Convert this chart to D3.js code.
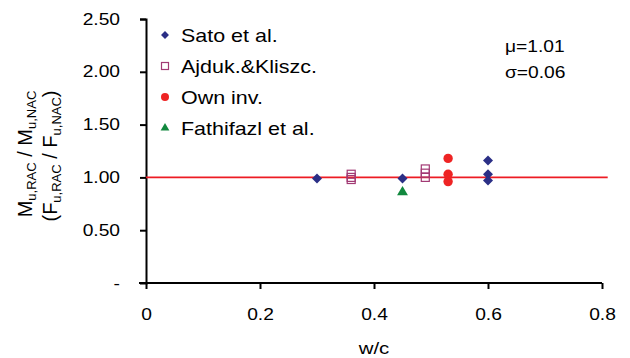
<!DOCTYPE html>
<html>
<head>
<meta charset="utf-8">
<script src="https://cdn.jsdelivr.net/npm/d3@7"></script>
<style>
  body { margin: 0; background: #fff; }
  text { font-family: "Liberation Sans", Arial, sans-serif; }
</style>
</head>
<body>
<div id="chart"></div>
<script>
// data
var satoX = [0.30, 0.45, 0.60, 0.60, 0.60];
var satoY = [0.99, 0.99, 1.16, 1.03, 0.97];
var ajdukX = [0.36, 0.36, 0.36, 0.49, 0.49, 0.49];
var ajdukY = [1.03, 1.00, 0.98, 1.08, 1.04, 1.00];
var ownX = [0.53, 0.53, 0.53];
var ownY = [1.18, 1.03, 0.96];
var fathX = [0.45];
var fathY = [0.86];
var xTicks = [0, 0.2, 0.4, 0.6, 0.8];
var yTicks = [0, 0.5, 1.0, 1.5, 2.0, 2.5];
var meanLine = 1.0;

var W = 630, H = 358;
var margin = {top: 19, right: 28, bottom: 75, left: 146},
    w = W - margin.left - margin.right,
    h = H - margin.top - margin.bottom;

var svg = d3.select("#chart").append("svg")
  .attr("width", W).attr("height", H)
  .append("g")
  .attr("transform", `translate(${margin.left},${margin.top})`);

var x = d3.scaleLinear().domain([0, 0.8]).range([0, w]);
var y = d3.scaleLinear().domain([0, 2.5]).range([h, 0]);

// the source picture is a bit wider than tall, so text gets stretched sideways
function stretch(sel, k) {
  sel.each(function () {
    var len = this.getComputedTextLength();
    d3.select(this).attr("textLength", len * k).attr("lengthAdjust", "spacingAndGlyphs");
  });
}

// axes
var xAxis = svg.append("g")
  .attr("transform", "translate(0," + h + ")")
  .call(d3.axisBottom(x).tickValues(xTicks).tickSize(6).tickPadding(20)
    .tickFormat(function (d) { return d === 0 ? "0" : d3.format(".1f")(d); }));
var yAxis = svg.append("g")
  .call(d3.axisLeft(y).tickValues(yTicks).tickSize(6).tickPadding(20)
    .tickFormat(function (d) { return d === 0 ? "-" : d3.format(".2f")(d); }));

[xAxis, yAxis].forEach(function (a) {
  a.select(".domain").attr("stroke", "#000").attr("stroke-width", 2);
  a.selectAll(".tick line").attr("stroke", "#000").attr("stroke-width", 2);
  a.selectAll("text").attr("fill", "#000").style("font-size", "16px")
    .style("font-family", "'Liberation Sans', Arial, sans-serif");
  stretch(a.selectAll("text"), 1.2);
});
xAxis.select(".domain").attr("d", "M-7,0H" + w);
yAxis.selectAll(".tick").filter(function (d) { return d === 0; }).select("line").remove();

// reference line
svg.append("line")
  .attr("x1", x(0)).attr("x2", x(0.81))
  .attr("y1", y(meanLine)).attr("y2", y(meanLine))
  .attr("stroke", "#ed1c24").attr("stroke-width", 1.6);

function zip(xs, ys) { return xs.map(function (v, i) { return [v, ys[i]]; }); }

var navy = "#2b2f86", plum = "#a23a74", red = "#ee2424", green = "#12883e";

// Sato diamonds
svg.selectAll(".sato").data(zip(satoX, satoY)).enter().append("path")
  .attr("class", "sato")
  .attr("d", d3.symbol(d3.symbolDiamond2, 64))
  .attr("transform", function (d) { return "translate(" + x(d[0]) + "," + y(d[1]) + ")"; })
  .attr("fill", navy);

// Ajduk squares
svg.selectAll(".ajd").data(zip(ajdukX, ajdukY)).enter().append("rect")
  .attr("class", "ajd")
  .attr("x", function (d) { return x(d[0]) - 4; })
  .attr("y", function (d) { return y(d[1]) - 4; })
  .attr("width", 8).attr("height", 8)
  .attr("fill", "none").attr("stroke", plum).attr("stroke-width", 1.2);

// own circles
svg.selectAll(".own").data(zip(ownX, ownY)).enter().append("circle")
  .attr("class", "own")
  .attr("cx", function (d) { return x(d[0]); })
  .attr("cy", function (d) { return y(d[1]); })
  .attr("r", 4.7).attr("fill", red);

// Fathifazl triangles
svg.selectAll(".fath").data(zip(fathX, fathY)).enter().append("path")
  .attr("class", "fath")
  .attr("d", d3.symbol(d3.symbolTriangle2, 85))
  .attr("transform", function (d) { return "translate(" + x(d[0]) + "," + y(d[1]) + ")"; })
  .attr("fill", green);

// legend
var legend = [
  {name: "Sato et al.", kind: "diamond"},
  {name: "Ajduk.&Kliszc.", kind: "square"},
  {name: "Own inv.", kind: "circle"},
  {name: "Fathifazl et al.", kind: "triangle"}
];
var lg = svg.append("g").attr("transform", "translate(19,16)");
legend.forEach(function (item, i) {
  var g = lg.append("g").attr("transform", "translate(0," + (i * 31) + ")");
  if (item.kind === "diamond") g.append("path").attr("d", d3.symbol(d3.symbolDiamond2, 40)).attr("fill", navy);
  if (item.kind === "square") g.append("rect").attr("x", -3.5).attr("y", -3.5).attr("width", 7).attr("height", 7)
    .attr("fill", "none").attr("stroke", plum).attr("stroke-width", 1.2);
  if (item.kind === "circle") g.append("circle").attr("r", 4).attr("fill", red);
  if (item.kind === "triangle") g.append("path").attr("d", d3.symbol(d3.symbolTriangle2, 55)).attr("fill", green);
  var t = g.append("text").attr("x", 16).attr("dy", "0.36em")
    .style("font-size", "18.5px").text(item.name);
  stretch(t, 1.16);
});

// stats
stretch(svg.append("text").attr("x", 359).attr("y", 33).style("font-size", "16px").text("\u03bc=1.01"), 1.2);
stretch(svg.append("text").attr("x", 359).attr("y", 59).style("font-size", "16px").text("\u03c3=0.06"), 1.2);

// axis titles
var wc = svg.append("text")
  .attr("x", x(0.4)).attr("y", h + 71)
  .style("text-anchor", "middle").style("font-size", "17px")
  .text("w/c");
stretch(wc, 1.2);

var yt = svg.append("text")
  .attr("transform", "rotate(-90)")
  .attr("x", -135).attr("y", -114)
  .style("text-anchor", "middle").style("font-size", "20px");
yt.append("tspan").text("M");
yt.append("tspan").attr("dy", 4).style("font-size", "13px").text("u,RAC");
yt.append("tspan").attr("dy", -4).text(" / M");
yt.append("tspan").attr("dy", 4).style("font-size", "13px").text("u,NAC");

var yt2 = svg.append("text")
  .attr("transform", "rotate(-90)")
  .attr("x", -137).attr("y", -89)
  .style("text-anchor", "middle").style("font-size", "20px");
yt2.append("tspan").text("(F");
yt2.append("tspan").attr("dy", 4).style("font-size", "13px").text("u,RAC");
yt2.append("tspan").attr("dy", -4).text(" / F");
yt2.append("tspan").attr("dy", 4).style("font-size", "13px").text("u,NAC");
yt2.append("tspan").attr("dy", -4).text(")");
</script>
</body>
</html>
